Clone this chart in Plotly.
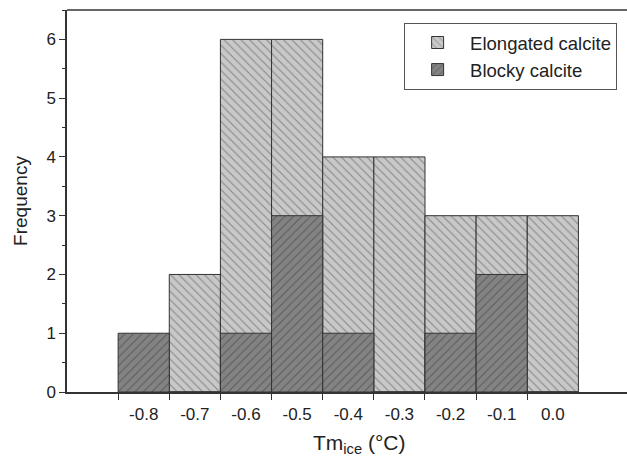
import plotly.graph_objects as go

bin_centers = [-0.8, -0.7, -0.6, -0.5, -0.4, -0.3, -0.2, -0.1, 0.0]
elongated = [0, 2, 6, 6, 4, 4, 3, 3, 3]
blocky = [1, 0, 1, 3, 1, 0, 1, 2, 0]
tick_labels = ["-0.8", "-0.7", "-0.6", "-0.5", "-0.4", "-0.3", "-0.2", "-0.1", "0.0"]
bin_edges = [-0.85, -0.75, -0.65, -0.55, -0.45, -0.35, -0.25, -0.15, -0.05]

fig = go.Figure()
fig.add_trace(go.Bar(
    x=bin_centers, y=elongated, name="Elongated calcite", width=0.1,
    marker=dict(color="#c8c8c8", line=dict(color="#333333", width=1),
                pattern=dict(shape="\\", fgcolor="#444444", size=6, solidity=0.18)),
))
fig.add_trace(go.Bar(
    x=bin_centers, y=blocky, name="Blocky calcite", width=0.1,
    marker=dict(color="#838383", line=dict(color="#333333", width=1),
                pattern=dict(shape="/", fgcolor="#333333", size=6, solidity=0.18)),
))

fig.update_layout(
    width=627, height=458,
    margin=dict(l=67, r=0, t=10, b=66, autoexpand=False),
    barmode="overlay",
    plot_bgcolor="white", paper_bgcolor="white",
    font=dict(family="Liberation Sans, Arial, sans-serif", color="#222222", size=16),
    showlegend=True,
    legend=dict(x=0.602, y=0.966, xanchor="left", yanchor="top",
                bordercolor="#555555", borderwidth=1, bgcolor="white",
                font=dict(size=18.5), tracegroupgap=0, itemwidth=55),
    xaxis=dict(
        range=[-0.95, 0.145], tickvals=bin_centers, ticktext=tick_labels,
        ticks="", showgrid=False, zeroline=False, automargin=False,
        showline=True, linecolor="#333333", linewidth=1.5,
        tickfont=dict(size=17), ticklabelstandoff=6,
        minor=dict(tickvals=bin_edges, ticks="outside", ticklen=6, tickcolor="#333333", tickwidth=1.2, showgrid=False),
    ),
    yaxis=dict(
        range=[0, 6.5], tickvals=[0, 1, 2, 3, 4, 5, 6],
        ticks="outside", ticklen=6, tickcolor="#333333", tickwidth=1.2,
        showgrid=False, zeroline=False, automargin=False,
        showline=True, linecolor="#333333", linewidth=1.5,
        tickfont=dict(size=17),
        minor=dict(dtick=0.5, ticks="outside", ticklen=3, tickcolor="#333333", showgrid=False),
        title=dict(text="Frequency", font=dict(size=19), standoff=14),
    ),
    shapes=[dict(type="line", xref="paper", yref="paper", x0=0, x1=1, y0=1, y1=1,
                 line=dict(color="#333333", width=1.5))],
    annotations=[dict(text="Tm<sub>ice</sub> (°C)", xref="paper", yref="paper",
                      x=0.522, y=-0.097, xanchor="center", yanchor="top",
                      showarrow=False, font=dict(size=21))],
)

fig.write_html("out.html", config={"displayModeBar": False},
               post_script="document.body.style.margin='0';document.body.style.overflow='hidden';")
